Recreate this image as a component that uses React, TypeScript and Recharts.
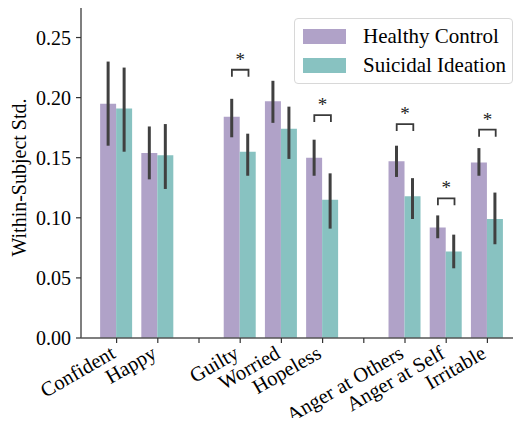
import React from "react";
import { BarChart, Bar, XAxis, YAxis, ErrorBar, ReferenceLine, Legend } from "recharts";

const SERIF = "Liberation Serif";

// empty strings are the spacer slots between emotion groups
const categories = [
  "Confident", "Happy", "",
  "Guilty", "Worried", "Hopeless", "",
  "Anger at Others", "Anger at Self", "Irritable",
];
const healthy = [0.195, 0.154, null, 0.184, 0.197, 0.150, null, 0.147, 0.092, 0.146];
const healthyLow = [0.160, 0.132, null, 0.167, 0.179, 0.135, null, 0.134, 0.083, 0.135];
const healthyHigh = [0.230, 0.176, null, 0.199, 0.214, 0.165, null, 0.160, 0.102, 0.158];
const suicidal = [0.191, 0.152, null, 0.155, 0.174, 0.115, null, 0.118, 0.072, 0.099];
const suicidalLow = [0.155, 0.124, null, 0.135, 0.149, 0.091, null, 0.099, 0.058, 0.078];
const suicidalHigh = [0.225, 0.178, null, 0.170, 0.1925, 0.137, null, 0.133, 0.086, 0.121];

const significant = ["Guilty", "Hopeless", "Anger at Others", "Anger at Self", "Irritable"];
const bracketAt = [0.2232, 0.1855, 0.178, 0.1162, 0.1733];

const yTicks = [0, 0.05, 0.1, 0.15, 0.2, 0.25];
const yMax = 0.2754;

const PURPLE = "#b0a2c8";
const TEAL = "#88c2c1";
const SPINE = "#555";

const keyOf = (c: string, i: number) => c || `gap${i}`;
const labelOf: Record<string, string> = {};
categories.forEach((c, i) => (labelOf[keyOf(c, i)] = c));

const errs = (v: (number | null)[], lo: (number | null)[], hi: (number | null)[], i: number) =>
  v[i] == null ? undefined : [(v[i] as number) - (lo[i] as number), (hi[i] as number) - (v[i] as number)];

const data = categories.map((c, i) => ({
  key: keyOf(c, i),
  hc: healthy[i],
  si: suicidal[i],
  hcErr: errs(healthy, healthyLow, healthyHigh, i),
  siErr: errs(suicidal, suicidalLow, suicidalHigh, i),
}));

const XTick = ({ x, y, payload }: any) => {
  const label = labelOf[payload.value] ?? "";
  if (!label) return null;
  const yy = y + 12;
  return (
    <text x={x} y={yy} textAnchor="end" transform={`rotate(-30 ${x} ${yy})`}
      fontSize={20.5} fontFamily={SERIF} fill="#000">
      {label}
    </text>
  );
};

const YTick = ({ x, y, payload }: any) => (
  <text x={x} y={y} dy={7} textAnchor="end" fontSize={20} fontFamily={SERIF} fill="#000">
    {Number(payload.value).toFixed(2)}
  </text>
);

const Bracket = (props: any) => {
  const { x1, y1 } = props;
  const half = 8.3;
  const drop = 7;
  return (
    <g>
      <path
        d={`M${x1 - half},${y1 + drop} L${x1 - half},${y1} L${x1 + half},${y1} L${x1 + half},${y1 + drop}`}
        fill="none" stroke="#3a3a3a" strokeWidth={1.8}
      />
      <text x={x1} y={y1 - 4} textAnchor="middle" fontSize={19} fontFamily={SERIF} fill="#222">*</text>
    </g>
  );
};

const LegendBox = ({ payload }: any) => (
  <div style={{
    border: "1px solid #d8d8d8", borderRadius: 4, background: "#fff", boxSizing: "border-box",
    padding: "3px 8px", width: 219, fontFamily: SERIF, fontSize: 21, lineHeight: "21px",
    whiteSpace: "nowrap",
  }}>
    {(payload || []).map((p: any) => (
      <div key={p.value} style={{ display: "flex", alignItems: "center", height: 29 }}>
        <span style={{ display: "inline-block", flex: "none", width: 43, height: 15, background: p.color, marginRight: 17 }} />
        <span style={{ color: "#000", whiteSpace: "nowrap" }}>{p.value}</span>
      </div>
    ))}
  </div>
);

export default function App() {
  return (
    <div style={{ margin: -8, width: 521, height: 426, overflow: "hidden", background: "#fff", fontFamily: SERIF }}>
      <BarChart width={540} height={426} data={data}
        margin={{ top: 7, right: 17, bottom: 0, left: 0 }}
        barCategoryGap="10%" barGap={0}>
        <XAxis dataKey="key" interval={0} height={88}
          padding={{ left: 15, right: 15 }}
          tickSize={5} tick={<XTick />}
          axisLine={{ stroke: SPINE, strokeWidth: 1.5 }}
          tickLine={{ stroke: "#333", strokeWidth: 1.2 }} />
        <YAxis domain={[0, yMax]} ticks={yTicks} width={81} tickSize={5} tickMargin={5}
          tick={<YTick />}
          axisLine={{ stroke: SPINE, strokeWidth: 1.5 }}
          tickLine={{ stroke: "#333", strokeWidth: 1.2 }}
          label={{
            content: ({ viewBox }: any) => {
              const cx = 26;
              const cy = viewBox.y + viewBox.height / 2 + 5;
              return (
                <text x={cx} y={cy} textAnchor="middle" transform={`rotate(-90 ${cx} ${cy})`}
                  fontSize={20} fontFamily={SERIF} fill="#000">
                  Within-Subject Std.
                </text>
              );
            },
          }} />
        <ReferenceLine y={yMax} stroke={SPINE} strokeWidth={1.5} ifOverflow="visible" />
        <Bar dataKey="hc" name="Healthy Control" fill={PURPLE} isAnimationActive={false}>
          <ErrorBar dataKey="hcErr" width={0} stroke="#404040" strokeWidth={3} />
        </Bar>
        <Bar dataKey="si" name="Suicidal Ideation" fill={TEAL} isAnimationActive={false}>
          <ErrorBar dataKey="siErr" width={0} stroke="#404040" strokeWidth={3} />
        </Bar>
        {significant.map((c, i) => (
          <ReferenceLine key={c} ifOverflow="visible"
            segment={[{ x: c, y: bracketAt[i] }, { x: c, y: bracketAt[i] }]}
            shape={<Bracket />} />
        ))}
        <Legend layout="vertical" align="center" verticalAlign="middle"
          wrapperStyle={{ top: 18, left: 294, width: "auto" }}
          content={<LegendBox />} />
      </BarChart>
    </div>
  );
}
